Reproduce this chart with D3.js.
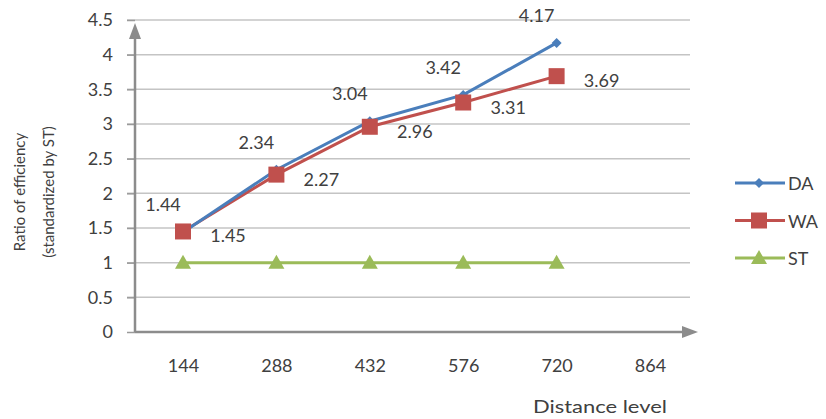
<!DOCTYPE html>
<html><head><meta charset="utf-8">
<script src="https://cdn.jsdelivr.net/npm/d3@7"></script>
<style>html,body{margin:0;padding:0;background:#fff;} svg{display:block;font-family:Lato,"Open Sans",sans-serif;}</style>
</head><body><svg id="c" width="826" height="419"></svg>
<script>
const categories = [144, 288, 432, 576, 720, 864];
const daValues = [1.44, 2.34, 3.04, 3.42, 4.17];
const waValues = [1.45, 2.27, 2.96, 3.31, 3.69];
const stValues = [1, 1, 1, 1, 1];
const yTicks = [0, 0.5, 1, 1.5, 2, 2.5, 3, 3.5, 4, 4.5];
const seriesNames = ["DA", "WA", "ST"];

const svg = d3.select("#c");
const x = d3.scaleLinear().domain([144, 864]).range([183, 650]);
const y = d3.scaleLinear().domain([0, 4.5]).range([332, 20]);
const axisX = 135, gridRight = 690;
const colors = {DA: "#4A7EBB", WA: "#C0504D", ST: "#9BBB59"};
const textColor = "#404040";

// gridlines
svg.append("g").selectAll("line").data(yTicks.filter(d => d > 0)).join("line")
  .attr("x1", 127).attr("x2", gridRight)
  .attr("y1", d => y(d)).attr("y2", d => y(d))
  .attr("stroke", "#c4c4c4").attr("stroke-width", 1.5);

// y axis labels
const yAxis = d3.axisLeft(y).tickValues(yTicks).tickFormat(d => String(d)).tickSize(8).tickPadding(14);
const gy = svg.append("g").attr("transform", `translate(${axisX},0)`).call(yAxis);
gy.select(".domain").remove();
gy.selectAll(".tick line").attr("stroke", "#9a9a9a").attr("stroke-width", 1.5);
gy.selectAll(".tick text").attr("font-size", 18).attr("fill", textColor).attr("font-family", "Lato, sans-serif");

// x axis labels
const xAxis = d3.axisBottom(x).tickValues(categories).tickFormat(d => String(d)).tickSize(0).tickPadding(27);
const gx = svg.append("g").attr("transform", `translate(0,${y(0)})`).call(xAxis);
gx.select(".domain").remove();
gx.selectAll(".tick text").attr("font-size", 18).attr("fill", textColor).attr("font-family", "Lato, sans-serif");

// axis lines with arrows
svg.append("line").attr("x1", axisX).attr("x2", 688).attr("y1", y(0)).attr("y2", y(0))
  .attr("stroke", "#8c8c8c").attr("stroke-width", 2.5);
svg.append("path").attr("d", `M698,${y(0)} L682,${y(0)-6} L682,${y(0)+6} Z`).attr("fill", "#8c8c8c");
svg.append("line").attr("x1", axisX).attr("x2", axisX).attr("y1", y(0)).attr("y2", 34)
  .attr("stroke", "#8c8c8c").attr("stroke-width", 2.5);
svg.append("path").attr("d", `M${axisX},23 L${axisX-6},39 L${axisX+6},39 Z`).attr("fill", "#8c8c8c");

// series
const series = [
  {name: "DA", values: daValues},
  {name: "WA", values: waValues},
  {name: "ST", values: stValues}
];
const line = d3.line().x((d, i) => x(categories[i])).y(d => y(d));

function marker(g, name, cx, cy) {
  const c = colors[name];
  if (name === "DA") {
    g.append("path").attr("d", `M${cx},${cy-5} L${cx+5},${cy} L${cx},${cy+5} L${cx-5},${cy} Z`).attr("fill", c);
  } else if (name === "WA") {
    g.append("rect").attr("x", cx-8).attr("y", cy-8).attr("width", 16).attr("height", 16).attr("fill", c);
  } else {
    g.append("path").attr("d", `M${cx},${cy-8} L${cx+8},${cy+6} L${cx-8},${cy+6} Z`).attr("fill", c);
  }
}

[series[2], series[1], series[0]].forEach(s => {
  svg.append("path").datum(s.values).attr("d", line).attr("fill", "none")
    .attr("stroke", colors[s.name]).attr("stroke-width", 3);
});
[series[2], series[0], series[1]].forEach(s => {
  const g = svg.append("g");
  s.values.forEach((v, i) => marker(g, s.name, x(categories[i]), y(v)));
});

// data labels
const lab = svg.append("g").attr("font-size", 18).attr("fill", textColor).attr("font-family", "Lato, sans-serif").attr("text-anchor", "middle");
daValues.forEach((v, i) => {
  lab.append("text").attr("x", x(categories[i]) - 20).attr("y", y(v) - 21).text(v.toFixed(2));
});
waValues.forEach((v, i) => {
  lab.append("text").attr("x", x(categories[i]) + 45).attr("y", y(v) + 11).text(v.toFixed(2));
});

// legend
const legend = svg.append("g");
seriesNames.forEach((name, i) => {
  const ly = 183 + i * 37.5;
  legend.append("line").attr("x1", 735).attr("x2", 785).attr("y1", ly).attr("y2", ly)
    .attr("stroke", colors[name]).attr("stroke-width", 3);
  marker(legend, name, 759, ly);
  legend.append("text").attr("x", 788).attr("y", ly + 7).attr("font-size", 18)
    .attr("fill", textColor).attr("font-family", "Lato, sans-serif").text(name);
});

// axis titles
svg.append("text").attr("x", 533).attr("y", 413)
  .attr("font-size", 17).attr("fill", textColor).attr("font-family", "Lato, sans-serif")
  .attr("textLength", 134).attr("lengthAdjust", "spacingAndGlyphs").text("Distance level");
const yt = svg.append("text").attr("transform", "translate(0,192) rotate(-90)").attr("text-anchor", "middle")
  .attr("font-size", 15).attr("fill", textColor).attr("font-family", "Lato, sans-serif");
yt.append("tspan").attr("x", 0).attr("y", 25).text("Ratio of efficiency");
yt.append("tspan").attr("x", 0).attr("y", 54).text("(standardized by ST)");
</script></body></html>
